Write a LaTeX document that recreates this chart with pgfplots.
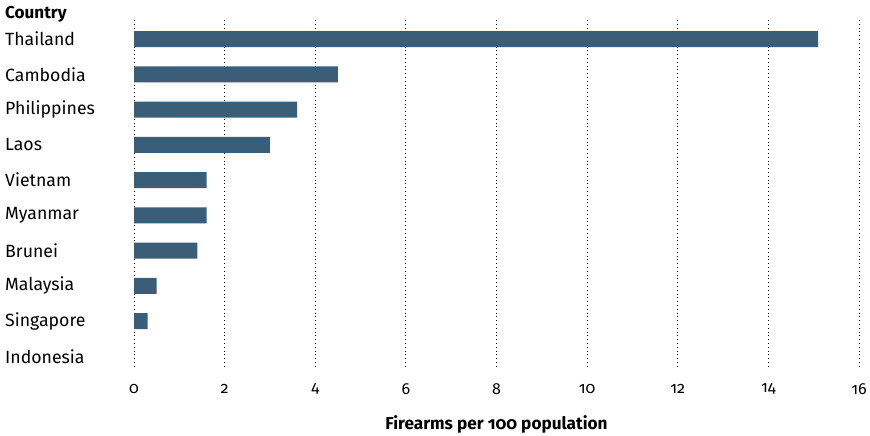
\documentclass[border=0pt]{standalone}
\usepackage{fontspec}
\setmainfont{Fira Sans}[Numbers=OldStyle]
\usepackage{pgfplots}
\pgfplotsset{compat=1.18}
\definecolor{barblue}{HTML}{3A5E78}
\begin{document}
\begin{tikzpicture}[x=1pt,y=1pt]
\useasboundingbox (0,0) rectangle (870,436);
\begin{axis}[
  at={(134pt,68pt)}, anchor=south west,
  scale only axis,
  width=725pt, height=348pt,
  xbar, bar width=16pt,
  xmin=0, xmax=16,
  ymin=-0.54, ymax=9.33,
  y dir=reverse,
  xtick={0,2,...,16},
  ytick={0,...,9},
  yticklabels={Thailand,Cambodia,Philippines,Laos,Vietnam,Myanmar,Brunei,Malaysia,Singapore,Indonesia},
  axis line style={draw=none},
  major tick length=0pt,
  xmajorgrids,
  grid style={black, line width=0.8pt, dash pattern=on 0.8pt off 3pt},
  /pgf/number format/assume math mode=true,
  tick label style={font=\fontsize{16}{18}\selectfont},
  xticklabel style={anchor=center, yshift=-21pt},
  yticklabel style={anchor=west, inner sep=0pt, xshift=-129pt, font=\fontsize{17.7}{19}\selectfont},
  xlabel={\textbf{Firearms per 100 population}},
  xlabel style={at={(axis description cs:0.5,0)}, anchor=center, yshift=-56pt, font=\fontsize{17.2}{19}\selectfont},
]
\addplot[fill=barblue, draw=none] coordinates {
(15.1,0) (4.5,1) (3.6,2) (3.0,3) (1.6,4) (1.6,5) (1.4,6) (0.5,7) (0.3,8) (0,9)
};
\end{axis}
\node[anchor=west, inner sep=0pt, font=\fontsize{17.1}{19}\selectfont\bfseries] at (5,422) {Country};
\end{tikzpicture}
\end{document}
